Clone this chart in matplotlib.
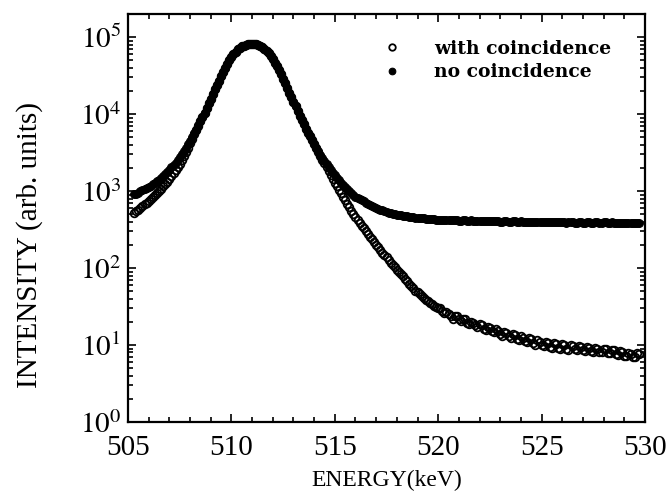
import matplotlib
matplotlib.use("Agg")
import matplotlib.pyplot as plt
from matplotlib.ticker import LogLocator, MultipleLocator, NullFormatter

plt.rcParams['font.family'] = 'Liberation Serif'
plt.rcParams['mathtext.fontset'] = 'stix'

# spectrum channels (keV)
energy = [
    505.3, 505.4, 505.5, 505.6, 505.7, 505.8, 505.9, 506.0, 506.1, 506.2,
    506.3, 506.4, 506.5, 506.6, 506.7, 506.8, 506.9, 507.0, 507.1, 507.2,
    507.3, 507.4, 507.5, 507.6, 507.7, 507.8, 507.9, 508.0, 508.1, 508.2,
    508.3, 508.4, 508.5, 508.6, 508.7, 508.8, 508.9, 509.0, 509.1, 509.2,
    509.3, 509.4, 509.5, 509.6, 509.7, 509.8, 509.9, 510.0, 510.1, 510.2,
    510.3, 510.4, 510.5, 510.6, 510.7, 510.8, 510.9, 511.0, 511.1, 511.2,
    511.3, 511.4, 511.5, 511.6, 511.7, 511.8, 511.9, 512.0, 512.1, 512.2,
    512.3, 512.4, 512.5, 512.6, 512.7, 512.8, 512.9, 513.0, 513.1, 513.2,
    513.3, 513.4, 513.5, 513.6, 513.7, 513.8, 513.9, 514.0, 514.1, 514.2,
    514.3, 514.4, 514.5, 514.6, 514.7, 514.8, 514.9, 515.0, 515.1, 515.2,
    515.3, 515.4, 515.5, 515.6, 515.7, 515.8, 515.9, 516.0, 516.1, 516.2,
    516.3, 516.4, 516.5, 516.6, 516.7, 516.8, 516.9, 517.0, 517.1, 517.2,
    517.3, 517.4, 517.5, 517.6, 517.7, 517.8, 517.9, 518.0, 518.1, 518.2,
    518.3, 518.4, 518.5, 518.6, 518.7, 518.8, 518.9, 519.0, 519.1, 519.2,
    519.3, 519.4, 519.5, 519.6, 519.7, 519.8, 519.9, 520.0, 520.1, 520.2,
    520.3, 520.4, 520.5, 520.6, 520.7, 520.8, 520.9, 521.0, 521.1, 521.2,
    521.3, 521.4, 521.5, 521.6, 521.7, 521.8, 521.9, 522.0, 522.1, 522.2,
    522.3, 522.4, 522.5, 522.6, 522.7, 522.8, 522.9, 523.0, 523.1, 523.2,
    523.3, 523.4, 523.5, 523.6, 523.7, 523.8, 523.9, 524.0, 524.1, 524.2,
    524.3, 524.4, 524.5, 524.6, 524.7, 524.8, 524.9, 525.0, 525.1, 525.2,
    525.3, 525.4, 525.5, 525.6, 525.7, 525.8, 525.9, 526.0, 526.1, 526.2,
    526.3, 526.4, 526.5, 526.6, 526.7, 526.8, 526.9, 527.0, 527.1, 527.2,
    527.3, 527.4, 527.5, 527.6, 527.7, 527.8, 527.9, 528.0, 528.1, 528.2,
    528.3, 528.4, 528.5, 528.6, 528.7, 528.8, 528.9, 529.0, 529.1, 529.2,
    529.3, 529.4, 529.5, 529.6, 529.7,
]

# counts without the coincidence requirement
no_coinc = [
    912, 930, 955, 990, 1023, 1060, 1096, 1135, 1175, 1230,
    1288, 1350, 1413, 1500, 1585, 1680, 1778, 1900, 2042, 2190,
    2344, 2540, 2754, 3020, 3311, 3670, 4074, 4520, 5012, 5620,
    6310, 7160, 8128, 9220, 10470, 12000, 13800, 15850, 18200, 20900,
    24000, 27300, 30900, 35100, 39800, 44900, 50100, 55300, 60300, 65000,
    69200, 72800, 75900, 77900, 79400, 80500, 81300, 81600, 81300, 80500,
    79400, 77000, 74100, 70300, 66100, 61400, 56200, 51400, 46800, 41800,
    37200, 32800, 28800, 25100, 21900, 19100, 16600, 14500, 12600, 10960,
    9550, 8400, 7410, 6500, 5750, 5130, 4570, 4070, 3630, 3270,
    2950, 2690, 2455, 2240, 2042, 1880, 1738, 1600, 1479, 1380,
    1288, 1200, 1122, 1060, 1000, 945, 891, 850, 813, 785,
    759, 735, 708, 685, 661, 640, 617, 603, 589, 575,
    562, 550, 537, 525, 513, 506, 501, 495, 490, 484,
    479, 473, 468, 462, 457, 455, 452, 449, 447, 444,
    442, 440, 437, 434, 432, 430, 427, 426, 425, 421,
    418, 424, 422, 417, 415, 420, 419, 414, 412, 418,
    416, 411, 409, 415, 414, 408, 408, 413, 411, 406,
    405, 411, 410, 404, 403, 409, 407, 402, 401, 407,
    406, 400, 399, 405, 404, 398, 398, 403, 402, 396,
    397, 402, 401, 395, 395, 400, 399, 393, 394, 399,
    400, 393, 393, 398, 397, 391, 392, 397, 396, 390,
    391, 396, 395, 389, 390, 395, 394, 388, 389, 394,
    393, 387, 388, 393, 392, 386, 387, 392, 391, 385,
    386, 391, 390, 384, 385, 390, 389, 383, 384, 389,
    388, 382, 383, 388, 387,
]

# counts with the coincidence requirement
with_coinc = [
    525, 550, 575, 600, 631, 670, 708, 750, 794, 840,
    891, 945, 1000, 1070, 1148, 1230, 1318, 1430, 1549, 1700,
    1862, 2040, 2239, 2500, 2818, 3200, 3631, 4170, 4786, 5450,
    6166, 7100, 8128, 9220, 10470, 12000, 13800, 15850, 18200, 20900,
    24000, 27300, 30900, 35100, 39800, 44900, 50100, 55300, 60300, 65000,
    69200, 72800, 75900, 77900, 79400, 80500, 81300, 81600, 81300, 80500,
    79400, 77000, 74100, 70300, 66100, 61400, 56200, 51400, 46800, 41800,
    37200, 32800, 28800, 25100, 21900, 19100, 16600, 14500, 12600, 10960,
    9550, 8400, 7410, 6500, 5750, 5130, 4570, 4070, 3630, 3220,
    2818, 2540, 2291, 2040, 1820, 1620, 1445, 1290, 1148, 1030,
    933, 840, 759, 685, 617, 555, 501, 455, 417, 385,
    355, 327, 302, 278, 257, 238, 219, 202, 186, 171,
    158, 148, 138, 127, 117, 109, 102, 95, 89, 83,
    78, 73, 68, 63, 59, 55, 51, 48.5, 46, 43.5,
    41, 39, 37, 35.5, 34, 32.5, 31, 30.5, 30, 27.5,
    26, 27, 25.5, 24, 22, 24, 23.5, 21.5, 20.5, 22,
    21.5, 19.5, 18.8, 20.2, 19.6, 18.0, 17.2, 18.6, 18.0, 16.4,
    15.6, 17.3, 16.8, 15.2, 14.6, 16.1, 15.4, 13.9, 13.3, 14.9,
    14.5, 13.0, 12.4, 14.0, 13.6, 12.1, 11.6, 13.0, 12.5, 11.2,
    10.8, 12.3, 12.0, 10.6, 10.1, 11.5, 11.0, 9.9, 9.6, 10.9,
    10.6, 9.4, 9.2, 10.5, 10.2, 9.1, 9.0, 10.2, 9.9, 8.9,
    8.7, 9.9, 9.7, 8.8, 8.6, 9.6, 9.4, 8.5, 8.4, 9.4,
    9.2, 8.3, 8.2, 9.2, 9.0, 8.1, 8.0, 9.0, 8.8, 7.9,
    7.8, 8.7, 8.5, 7.6, 7.4, 8.3, 8.1, 7.3, 7.1, 7.9,
    7.7, 6.9, 7.0, 7.8, 7.6,
]

fig = plt.figure(figsize=(6.72, 4.98), dpi=100)
ax = fig.add_axes([0.1905, 0.1526, 0.7693, 0.8193])

ax.plot(energy, with_coinc, 'o', ms=5.5, mfc='none', mec='black', mew=1.3,
        label='with coincidence', zorder=2)
ax.plot(energy, no_coinc, 'o', ms=5.6, mfc='black', mec='black', mew=0.8,
        label='no coincidence', zorder=3)

ax.set_yscale('log')
ax.set_xlim(505, 530)
ax.set_ylim(1, 2e5)

ax.xaxis.set_major_locator(MultipleLocator(5))
ax.xaxis.set_minor_locator(MultipleLocator(1))
ax.yaxis.set_minor_locator(LogLocator(base=10, subs=range(2, 10), numticks=20))
ax.yaxis.set_minor_formatter(NullFormatter())
ax.set_yticks([1, 10, 100, 1000, 1e4, 1e5])
ax.set_yticklabels([r'$10^{%d}$' % k for k in range(6)])

ax.tick_params(which='both', direction='in', top=True, right=True, width=1.2)
ax.tick_params(which='major', length=6, labelsize=21)
ax.tick_params(which='minor', length=3.5)
ax.tick_params(axis='x', which='major', pad=9)
ax.tick_params(axis='y', which='major', pad=5)
for s in ax.spines.values():
    s.set_linewidth(1.6)

ax.set_xlabel('ENERGY(keV)', fontsize=17)
ax.xaxis.set_label_coords(0.5, -0.118)
ax.set_ylabel('INTENSITY (arb. units)', fontsize=21)
ax.yaxis.set_label_coords(-0.165, 0.434)

leg = ax.legend(loc='upper right', bbox_to_anchor=(0.968, 0.978), frameon=False,
                handlelength=1.0, handletextpad=1.75, labelspacing=0.3,
                markerscale=0.85,
                prop={'family': 'DejaVu Serif', 'weight': 'bold', 'size': 13.5})

fig.savefig('out.png', dpi=100)
